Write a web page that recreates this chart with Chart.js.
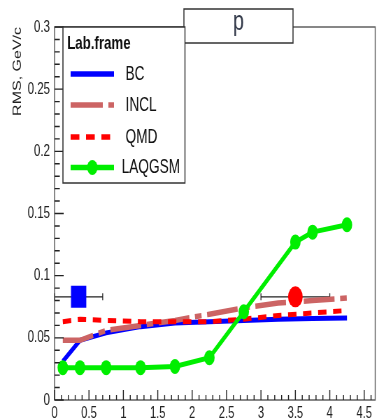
<!DOCTYPE html>
<html>
<head>
<meta charset="utf-8">
<script src="https://cdn.jsdelivr.net/npm/chart.js@4"></script>
<style>
  html, body { margin: 0; padding: 0; overflow: hidden; background: #fff; }
  /* the original picture is squeezed sideways, so draw wide and squeeze */
  #wrap { width: 552px; height: 418px; transform: scaleX(0.6993); transform-origin: 0 0; }
</style>
</head>
<body>
<div id="wrap"><canvas id="grafico" width="552" height="418"></canvas></div>
<script>
// beam energy, GeV
const energy = [0.12, 0.37, 0.75, 1.25, 1.75, 2.25, 2.75, 3.25, 3.75, 4.25];
const energyLAQGSM = [0.12, 0.37, 0.75, 1.25, 1.75, 2.25, 2.75, 3.5, 3.75, 4.25];

// RMS, GeV/c
const rmsBC = [0.031, 0.048, 0.054, 0.059, 0.062, 0.063, 0.064, 0.065, 0.0655, 0.066];
const rmsINCL = [0.048, 0.048, 0.056, 0.060, 0.064, 0.069, 0.074, 0.078, 0.080, 0.082];
const rmsQMD = [0.063, 0.065, 0.064, 0.063, 0.063, 0.063, 0.065, 0.068, 0.070, 0.072];
const rmsLAQGSM = [0.026, 0.026, 0.026, 0.026, 0.027, 0.034, 0.071, 0.127, 0.135, 0.141];

// experimental points with horizontal error bars
const expX = [0.35, 3.5];
const expY = [0.083, 0.083];
const expXLow = [0, 3.0];
const expXHigh = [0.7, 4.0];

const legendTitle = "Lab.frame";
const legendLabels = ["BC", "INCL", "QMD", "LAQGSM"];
const panelTitle = "p";

const azul = "#0000ff";
const rosa = "#cc6464";
const vermelho = "#ff0000";
const verde = "#00ee00";
const fonte = "'Liberation Sans', Arial, sans-serif";

function pts(xs, ys) {
  return xs.map((v, i) => ({ x: v, y: ys[i] }));
}

const moldura = {
  id: "moldura",
  beforeDatasetsDraw(chart) {
    const { ctx, scales: { x, y } } = chart;
    ctx.save();
    ctx.strokeStyle = "#222";
    ctx.lineWidth = 1.3;
    expX.forEach((_, i) => {
      const py = y.getPixelForValue(expY[i]);
      const x0 = x.getPixelForValue(expXLow[i]);
      const x1 = x.getPixelForValue(expXHigh[i]);
      ctx.beginPath();
      ctx.moveTo(x0, py); ctx.lineTo(x1, py);
      ctx.moveTo(x0, py - 3.5); ctx.lineTo(x0, py + 3.5);
      ctx.moveTo(x1, py - 3.5); ctx.lineTo(x1, py + 3.5);
      ctx.stroke();
    });
    ctx.restore();
  },
  afterDraw(chart) {
    const { ctx, chartArea: a, scales: { x, y } } = chart;
    ctx.save();

    // frame
    ctx.strokeStyle = "#555";
    ctx.lineWidth = 1.4;
    ctx.strokeRect(a.left, a.top, a.right - a.left, a.bottom - a.top);

    // ticks pointing inside
    ctx.strokeStyle = "#222";
    ctx.lineWidth = 1.4;
    ctx.beginPath();
    for (let k = 0; k <= 30; k++) {
      const py = y.getPixelForValue(k * 0.01);
      const len = k % 5 === 0 ? 13 : 7.5;
      ctx.moveTo(a.left, py); ctx.lineTo(a.left + len, py);
    }
    for (let k = 0; k <= 46; k++) {
      const px = x.getPixelForValue(k * 0.1);
      const len = k % 5 === 0 ? 10 : 5;
      ctx.moveTo(px, a.bottom); ctx.lineTo(px, a.bottom - len);
    }
    ctx.stroke();

    // title box
    ctx.fillStyle = "#fff";
    ctx.fillRect(263, 9, 156, 34);
    ctx.strokeStyle = "#333";
    ctx.lineWidth = 1.5;
    ctx.strokeRect(263, 9, 156, 34);
    ctx.fillStyle = "#333a4a";
    ctx.font = "28px " + fonte;
    ctx.textAlign = "center";
    ctx.textBaseline = "alphabetic";
    ctx.fillText(panelTitle, 341, 30);

    // legend box
    ctx.fillStyle = "#fff";
    ctx.fillRect(90, a.top, 174.5, 156);
    ctx.strokeStyle = "#333";
    ctx.strokeRect(90, a.top, 174.5, 156);
    ctx.fillStyle = "#111";
    ctx.textAlign = "left";
    ctx.textBaseline = "middle";
    ctx.font = "bold 19px " + fonte;
    ctx.fillText(legendTitle, 96, 44);

    const rows = [74, 105, 137, 167.5];
    const estilos = [
      { cor: azul, dash: [] },
      { cor: rosa, dash: [46, 8, 8, 8] },
      { cor: vermelho, dash: [12.5, 9.5] },
      { cor: verde, dash: [] },
    ];
    ctx.font = "19.5px " + fonte;
    rows.forEach((ry, i) => {
      const s = estilos[i];
      ctx.save();
      ctx.strokeStyle = s.cor;
      ctx.lineWidth = 5.7;
      ctx.setLineDash(s.dash);
      ctx.beginPath();
      ctx.moveTo(101, ry);
      ctx.lineTo(i === 2 ? 158 : 163, ry);
      ctx.stroke();
      if (i === 3) {
        ctx.fillStyle = verde;
        ctx.beginPath();
        ctx.arc(132, ry, 7.5, 0, Math.PI * 2);
        ctx.fill();
      }
      ctx.restore();
      ctx.fillStyle = "#111";
      ctx.fillText(legendLabels[i], i === 3 ? 174 : 179.5, ry + 0.5);
    });
    ctx.restore();
  },
};

new Chart(document.getElementById("grafico"), {
  type: "scatter",
  data: {
    datasets: [
      {
        label: "exp p",
        data: pts([expX[1]], [expY[1]]),
        pointStyle: "circle",
        pointRadius: 10.5,
        backgroundColor: vermelho,
        borderWidth: 0,
        order: 0,
      },
      {
        label: "exp BC",
        data: pts([expX[0]], [expY[0]]),
        pointStyle: "rect",
        pointRadius: 15.5,
        backgroundColor: azul,
        borderWidth: 0,
        order: 0,
      },
      {
        label: legendLabels[3],
        data: pts(energyLAQGSM, rmsLAQGSM),
        showLine: true,
        borderColor: verde,
        backgroundColor: verde,
        borderWidth: 5,
        pointRadius: 7.5,
        pointBorderWidth: 0,
        order: 1,
      },
      {
        label: legendLabels[2],
        data: pts(energy, rmsQMD),
        showLine: true,
        borderColor: vermelho,
        borderWidth: 5,
        borderDash: [12, 9.5],
        pointRadius: 0,
        order: 2,
      },
      {
        label: legendLabels[1],
        data: pts(energy, rmsINCL),
        showLine: true,
        borderColor: rosa,
        borderWidth: 5.5,
        borderDash: [44, 8, 9.5, 8],
        pointRadius: 0,
        order: 3,
      },
      {
        label: legendLabels[0],
        data: pts(energy, rmsBC),
        showLine: true,
        borderColor: azul,
        borderWidth: 5,
        pointRadius: 0,
        order: 4,
      },
    ],
  },
  options: {
    responsive: false,
    animation: false,
    events: [],
    layout: { padding: { top: 27, right: 0, bottom: 0, left: 0 } },
    plugins: { legend: { display: false }, tooltip: { enabled: false } },
    scales: {
      x: {
        type: "linear",
        min: 0,
        max: 4.66,
        grid: { display: false, drawTicks: false },
        border: { display: false },
        ticks: {
          stepSize: 0.5,
          includeBounds: false,
          autoSkip: false,
          maxRotation: 0,
          padding: 4,
          color: "#222",
          font: { family: fonte, size: 16 },
          callback: (v) => String(+v.toFixed(2)),
        },
        afterFit: (s) => { s.height = 18; },
      },
      y: {
        min: 0,
        max: 0.3,
        grid: { display: false, drawTicks: false },
        border: { display: false },
        ticks: {
          stepSize: 0.05,
          includeBounds: false,
          padding: 6.5,
          color: "#222",
          font: { family: fonte, size: 16.5 },
          callback: (v) => String(+v.toFixed(2)),
        },
        title: {
          display: true,
          text: "RMS, GeV/c",
          align: "end",
          color: "#222",
          font: { family: fonte, size: 16 },
          padding: { top: 16, bottom: 0 },
        },
        afterFit: (s) => { s.width = 78; },
      },
    },
  },
  plugins: [moldura],
});
</script>
</body>
</html>
